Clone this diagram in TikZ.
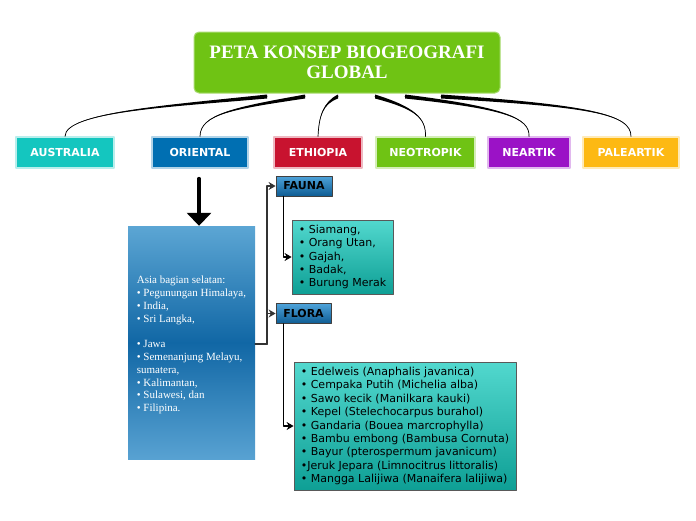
\documentclass[tikz,border=0pt]{standalone}
\usepackage{fontspec}
\setmainfont{Liberation Serif}
\setsansfont{DejaVu Sans}
\usetikzlibrary{arrows.meta,calc,positioning}
\definecolor{titlegreen}{HTML}{6FC314}
\definecolor{ausc}{HTML}{14C6BF}
\definecolor{oric}{HTML}{006FB2}
\definecolor{ethc}{HTML}{C8132F}
\definecolor{neoc}{HTML}{6FC314}
\definecolor{nearc}{HTML}{9B12C6}
\definecolor{palc}{HTML}{FDB913}
\definecolor{asiatop}{HTML}{5CA6D4}
\definecolor{asiamid}{HTML}{1167A5}
\definecolor{asiabot}{HTML}{58A2D2}
\definecolor{tagtop}{HTML}{4EA3DA}
\definecolor{tagbot}{HTML}{0E5C93}
\definecolor{listtop}{HTML}{52D8CE}
\definecolor{listbot}{HTML}{0E9F95}
\newcommand{\branch}[4]{%
  \fill ($(#1)+(0,-2)$) .. controls ($(#2)+(0,-1)$) and (#3) .. (#4)
    .. controls (#3) and ($(#2)+(0,1)$) .. ($(#1)+(0,2)$) -- cycle;
  \draw[line width=.7pt] (#1) .. controls (#2) and (#3) .. (#4);}
\begin{document}
\begin{tikzpicture}[line cap=round,line join=round,x=1pt,y=-1pt,
  >={Stealth[length=7pt,width=8pt]},
  region/.style={minimum height=31,inner sep=0,text=white,
    font=\sffamily\bfseries\fontsize{11}{13}\selectfont,
    draw=#1!30,line width=1.2pt,fill=#1},
  tag/.style={minimum height=20,inner sep=0,draw=black!75,line width=.8pt,
    top color=tagtop,bottom color=tagbot,
    font=\sffamily\bfseries\fontsize{11}{12}\selectfont},
  listbox/.style={draw=black!65,line width=.8pt,inner sep=0,align=left,
    top color=listtop,bottom color=listbot,
    font=\sffamily\fontsize{11}{13.4}\selectfont},
  link/.style={line width=1.5pt,black}]
\useasboundingbox (0,0) rectangle (696,520);

% title
\node[fill=titlegreen,draw=titlegreen!60,line width=1pt,rounded corners=5pt,
  minimum width=306,minimum height=61,text=white,align=center,
  font=\bfseries\fontsize{19}{20}\selectfont] (title) at (347,62.5)
  {PETA KONSEP BIOGEOGRAFI\\GLOBAL};

% regions
\node[region=ausc,minimum width=98] (aus) at (65,152.5) {AUSTRALIA};
\node[region=oric,minimum width=96] (ori) at (200,152.5) {ORIENTAL};
\node[region=ethc,minimum width=88] (eth) at (318,152.5) {ETHIOPIA};
\node[region=neoc,minimum width=99] (neo) at (425.5,152.5) {NEOTROPIK};
\node[region=nearc,minimum width=82] (near) at (529,152.5) {NEARTIK};
\node[region=palc,minimum width=96] (pal) at (631,152.5) {PALEARTIK};

\coordinate (s1) at ($(title.south)+(-80,3)$);
\coordinate (s2) at ($(title.south)+(-42,3)$);
\coordinate (s3) at ($(title.south)+(-9,3)$);
\coordinate (s4) at ($(title.south)+(28,3)$);
\coordinate (s5) at ($(title.south)+(58,3)$);
\coordinate (s6) at ($(title.south)+(94,3)$);
\branch{s1}{170,106}{65,112}{aus.north}
\branch{s2}{235,108}{200,114}{ori.north}
\branch{s3}{323,103}{319,116}{eth.north}
\branch{s4}{415,108}{426,118}{neo.north}
\branch{s5}{505,108}{530,118}{near.north}
\branch{s6}{590,106}{631,114}{pal.north}

% oriental
\node[minimum width=127,minimum height=233,inner sep=0,
  top color=asiatop,bottom color=asiabot,middle color=asiamid,
  text=white,align=left,font=\fontsize{11}{12.8}\selectfont] (asia) at (191.5,342.5)
  {\mbox{}\\ Asia bagian selatan:\\ • Pegunungan Himalaya,\\ • India,\\ • Sri Langka,\\ ~\\
   • Jawa\\ • Semenanjung Melayu,\\ sumatera,\\ • Kalimantan,\\ • Sulawesi, dan\\ • Filipina.};
\coordinate (oa) at ($(ori.south)+(-1,10)$);
\draw[line width=3.5pt,-{Triangle[width=24pt,length=13pt]}] (oa) -- (oa |- asia.north);

\node[tag,minimum width=56] (fauna) at (304,186) {FAUNA};
\node[tag,minimum width=55] (flora) at (303.5,313.5) {FLORA};

\node[listbox,minimum width=101,minimum height=74] (faunalist) at (342.5,257)
  {• Siamang,\\ • Orang Utan,\\ • Gajah,\\ • Badak,\\ • Burung Merak};
\node[listbox,minimum width=222,minimum height=128] (floralist) at (405,426)
  {• Edelweis (Anaphalis javanica)\\ • Cempaka Putih (Michelia alba)\\
   • Sawo kecik (Manilkara kauki)\\ • Kepel (Stelechocarpus burahol)\\
   • Gandaria (Bouea marcrophylla)\\ • Bambu embong (Bambusa Cornuta)\\
   • Bayur (pterospermum javanicum)\\ •Jeruk Jepara (Limnocitrus littoralis)\\
   • Mangga Lalijiwa (Manaifera lalijiwa)};

\coordinate (jn) at (267,344);
\draw[link,black!80] ($(asia.east)+(0,1.5)$) -- (jn);
\draw[link,black!80,->] (jn) -- (jn |- fauna.west) -- (fauna.west);
\draw[link,black!80,->] (jn) -- (jn |- flora.west) -- (flora.west);
\draw[link,->] ($(fauna.south west)+(8,0)$) |- (faunalist.west);
\draw[link,->] ($(flora.south west)+(8,0)$) |- (floralist.west);
\end{tikzpicture}
\end{document}
